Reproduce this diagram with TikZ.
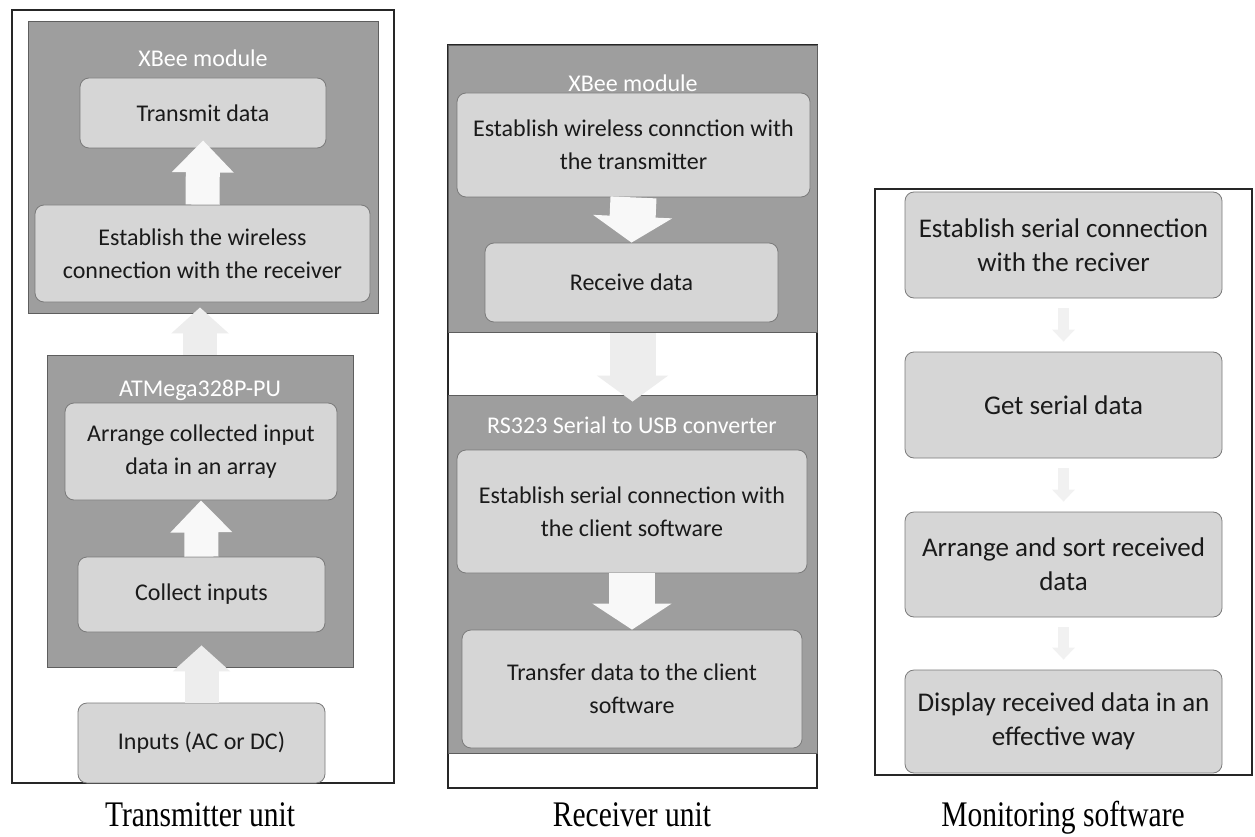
\documentclass[tikz,border=0pt]{standalone}
\usepackage{fontspec}
\setmainfont{Liberation Serif}
\newfontfamily\carlito{Carlito}
\usetikzlibrary{arrows.meta,calc}
\definecolor{panelgray}{HTML}{9E9E9E}
\definecolor{paneledge}{HTML}{5E5E5E}
\definecolor{boxgray}{HTML}{D6D6D6}
\definecolor{boxedge}{HTML}{7A7A7A}
\definecolor{txt}{HTML}{1A1A1A}
\definecolor{faint}{HTML}{EDEDED}
\definecolor{fainter}{HTML}{F1F1F1}
\definecolor{bright}{HTML}{F8F8F8}
\newcommand{\capbox}[1]{\scalebox{0.82}[1]{#1}}
\begin{document}
\begin{tikzpicture}[x=1pt,y=-1pt,
  frame/.style={draw=black!85,line width=1.3pt,fill=white},
  panel/.style={draw=paneledge,fill=panelgray,line width=0.9pt},
  stepbox/.style={draw=boxedge,fill=boxgray,rounded corners=9pt,line width=0.8pt,
    align=center,text=txt,inner sep=0pt,font=\carlito\fontsize{24}{33}\selectfont},
  monbox/.style={stepbox,font=\carlito\fontsize{27}{34}\selectfont},
  ptitle/.style={text=white,inner sep=0pt,font=\carlito\fontsize{24}{28}\selectfont},
  caption/.style={inner sep=0pt,text=black,font=\fontsize{36}{40}\selectfont},
  bigup/.style={draw=bright,line width=34pt,-{Triangle[width=60pt,length=32pt]}},
  bigdown/.style={draw=bright,line width=46pt,-{Triangle[width=78pt,length=26pt]}},
  faintarrow/.style={draw=faint,line width=34pt,-{Triangle[width=56pt,length=26pt]}},
  faintwide/.style={draw=faint,line width=46pt,-{Triangle[width=70pt,length=26pt]}},
  tinyarrow/.style={draw=fainter,line width=11pt,-{Triangle[width=22pt,length=12pt]}},
]
\useasboundingbox (0,0) rectangle (1255,837);

% ---------------- Transmitter unit ----------------
\node[frame,minimum width=382pt,minimum height=773pt,inner sep=0pt] (txframe) at (203,396.5) {};
\node[panel,minimum width=350pt,minimum height=292pt,inner sep=0pt] (txbee) at (203,167) {};
\node[ptitle] (txbeetitle) at (203,58) {XBee module};
\node[stepbox,minimum width=246pt,minimum height=70pt] (transmit) at (203,113) {Transmit data};
\node[stepbox,minimum width=335pt,minimum height=97pt] (estw) at (202.5,253.5) {Establish the wireless\\connection with the receiver};

\node[panel,minimum width=306pt,minimum height=312pt,inner sep=0pt] (atm) at (200,511) {};
\node[ptitle] (atmtitle) at (200,390) {ATMega328P-PU};
\node[stepbox,minimum width=272pt,minimum height=97pt] (arrange) at (201,451.5) {Arrange collected input\\data in an array};
\node[stepbox,minimum width=247pt,minimum height=75pt] (collect) at (201.5,594.5) {Collect inputs};
\node[stepbox,minimum width=247pt,minimum height=80pt] (inputs) at (201.5,743) {Inputs (AC or DC)};

\draw[bigup,shorten >=-8pt] (estw.north) -- (transmit.south);
\draw[bigup] (collect.north) -- (arrange.south);
\draw[faintarrow] (atm.north) -- ($(atm.north |- txbee.south)+(0,-6)$);
\draw[faintarrow,shorten >=13pt] (inputs.north) -- (collect.south);

\node[caption] (txcap) at (200,815) {\capbox{Transmitter unit}};

% ---------------- Receiver unit ----------------
\node[frame,minimum width=369pt,minimum height=743pt,inner sep=0pt] (rxframe) at (632.5,416.5) {};
\node[panel,minimum width=369pt,minimum height=287pt,inner sep=0pt] (rxbee) at (632.5,188.5) {};
\node[ptitle] (rxbeetitle) at (633,83) {XBee module};
\node[stepbox,minimum width=353pt,minimum height=104pt] (rx1) at (633.5,145) {Establish wireless connction with\\the transmitter};
\node[stepbox,minimum width=293pt,minimum height=79pt] (rx2) at (631.5,282.5) {Receive data};

\node[panel,minimum width=369pt,minimum height=358pt,inner sep=0pt] (rs) at (632.5,574) {};
\node[ptitle] (rstitle) at (632,425) {RS323 Serial to USB converter};
\node[stepbox,minimum width=350pt,minimum height=123pt] (rx3) at (632,511.5) {Establish serial connection with\\the client software};
\node[stepbox,minimum width=340pt,minimum height=118pt] (rx4) at (632,689) {Transfer data to the client\\software};

\draw[bigdown] (rx1.south) -- (rx2.north);
\draw[bigdown] (rx3.south) -- (rx4.north);
\draw[faintwide,shorten >=-7pt] ($(rxbee.south)+(0,1)$) -- (rs.north);

\node[caption] (rxcap) at (632,815) {\capbox{Receiver unit}};

% ---------------- Monitoring software ----------------
\node[frame,minimum width=377pt,minimum height=586pt,inner sep=0pt] (monframe) at (1063.5,482) {};
\node[monbox,minimum width=317pt,minimum height=106pt] (m1) at (1063.5,245) {Establish serial connection\\with the reciver};
\node[monbox,minimum width=317pt,minimum height=106pt] (m2) at (1063.5,405) {Get serial data};
\node[monbox,minimum width=317pt,minimum height=105pt] (m3) at (1063.5,564.5) {Arrange and sort received\\data};
\node[monbox,minimum width=317pt,minimum height=103pt] (m4) at (1063.5,721.5) {Display received data in an\\effective way};

\draw[tinyarrow,shorten <=10pt,shorten >=10pt] (m1.south) -- (m2.north);
\draw[tinyarrow,shorten <=10pt,shorten >=10pt] (m2.south) -- (m3.north);
\draw[tinyarrow,shorten <=10pt,shorten >=10pt] (m3.south) -- (m4.north);

\node[caption] (moncap) at (1063,818) {\capbox{Monitoring software}};
\end{tikzpicture}
\end{document}
